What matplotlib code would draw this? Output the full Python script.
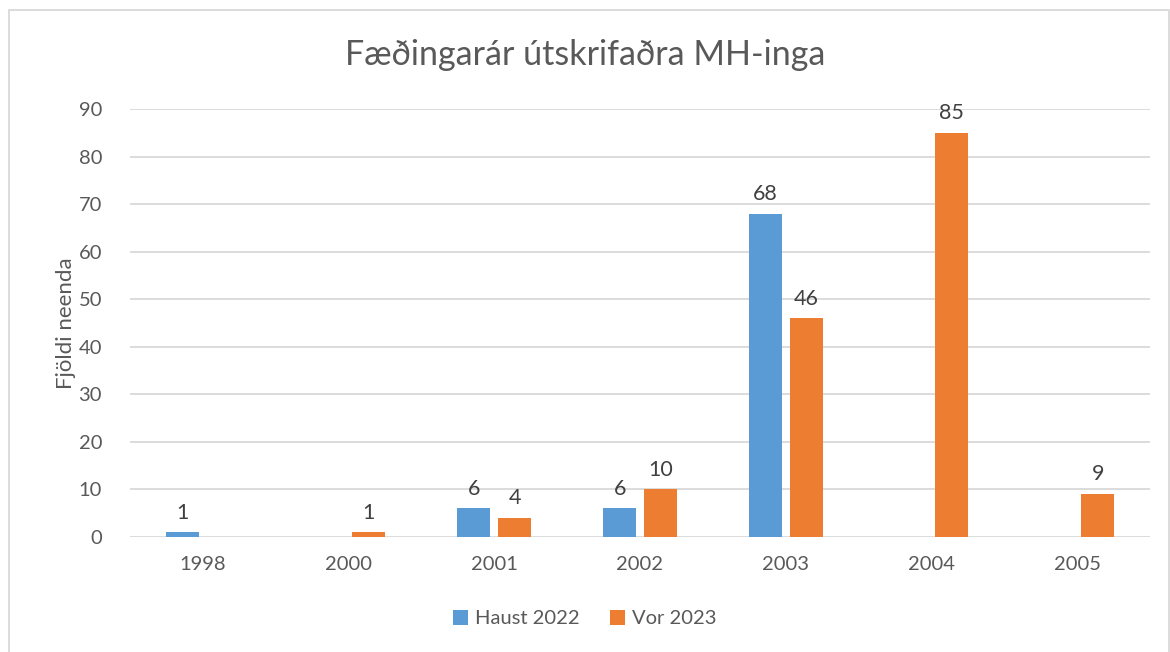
import numpy as np
import matplotlib.pyplot as plt
from matplotlib.patches import Rectangle

# gögn
years = ['1998', '2000', '2001', '2002', '2003', '2004', '2005']
haust_2022 = [1, 0, 6, 6, 68, 0, 0]
vor_2023 = [0, 1, 4, 10, 46, 85, 9]
y_ticks = [0, 10, 20, 30, 40, 50, 60, 70, 80, 90]

plt.rcParams['font.family'] = ['Lato', 'DejaVu Sans']
TXT = '#595959'
GRID = '#D9D9D9'

fig = plt.figure(figsize=(11.7, 6.52), dpi=100)
ax = fig.add_axes([0.111, 0.1764, 0.872, 0.6564])

x = np.arange(len(years))
w = 0.226
off = 0.14
b1 = ax.bar(x - off, haust_2022, w, color='#5B9BD5', label='Haust 2022', zorder=3)
b2 = ax.bar(x + off, vor_2023, w, color='#ED7D31', label='Vor 2023', zorder=3)

# gildi ofan á súlum (ekki fyrir núll)
for bars, vals in ((b1, haust_2022), (b2, vor_2023)):
    for rect, v in zip(bars, vals):
        if v:
            ax.annotate(str(v), (rect.get_x() + rect.get_width() / 2, v),
                        xytext=(0, 7), textcoords='offset points',
                        ha='center', va='bottom', fontsize=15.5, color='#404040')

ax.set_xlim(-0.5, len(years) - 0.5)
ax.set_ylim(0, 90)
ax.set_yticks(y_ticks)
ax.set_xticks(x)
ax.set_xticklabels(years)
ax.tick_params(length=0, labelsize=14.5, colors=TXT, pad=14)
ax.tick_params(axis='y', pad=20)
ax.grid(axis='y', color=GRID, lw=1.3, zorder=0)
for s in ax.spines.values():
    s.set_visible(False)

ax.set_ylabel('Fjöldi neenda', fontsize=16, color=TXT, labelpad=2)
fig.suptitle('Fæðingarár útskrifaðra MH-inga', fontsize=24.5, color=TXT, y=0.94)

fig.legend(loc='lower center', bbox_to_anchor=(0.5, 0.01), ncol=2, frameon=False,
           fontsize=14.5, labelcolor=TXT, handlelength=0.75, handleheight=0.75,
           handletextpad=0.35, columnspacing=1.5)

# rammi utan um myndina
fig.patches.append(Rectangle((9 / 1170, -0.01), 1160 / 1170, 1 - 10 / 652 + 0.01,
                             transform=fig.transFigure, fill=False,
                             edgecolor=GRID, lw=1.3))

fig.savefig('out.png', dpi=100)
